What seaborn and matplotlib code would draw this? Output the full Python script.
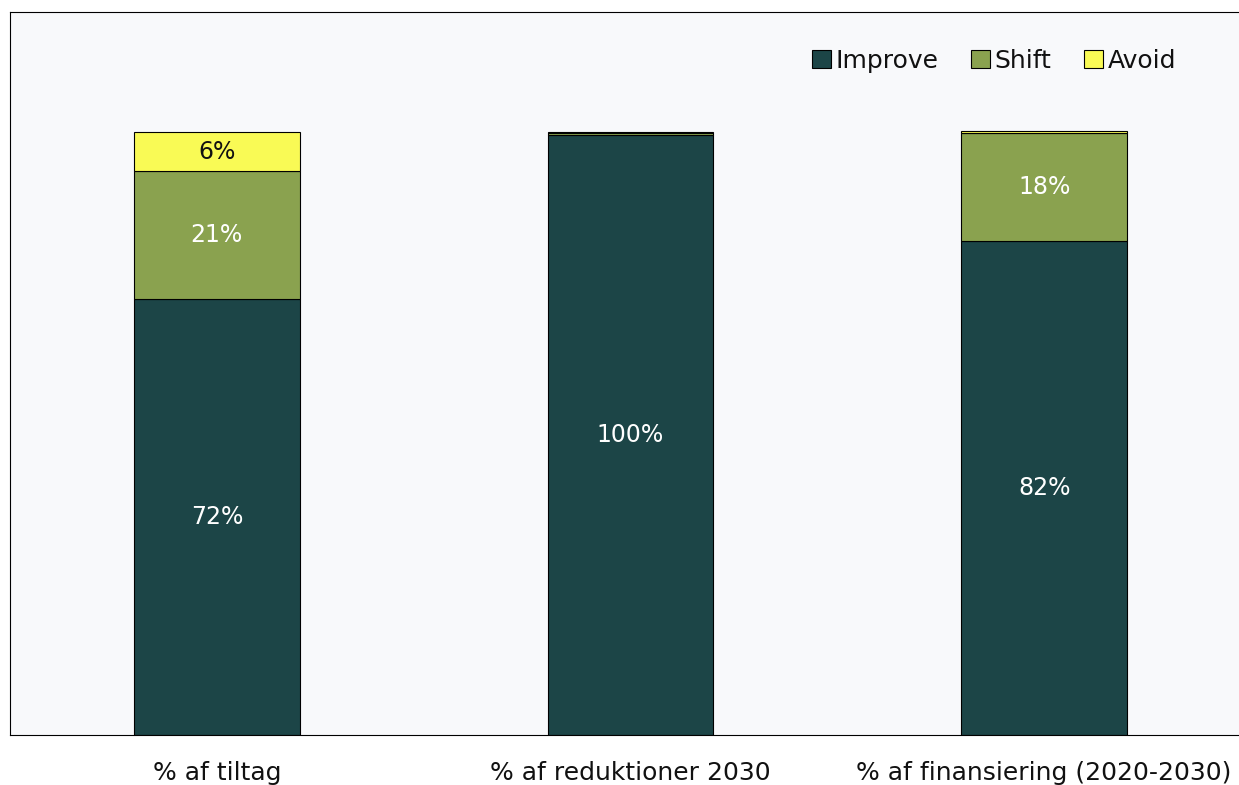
import pandas as pd
import matplotlib.pyplot as plt
import seaborn as sns

# Chart values (percent)
categories = ['% af tiltag', '% af reduktioner 2030', '% af finansiering (2020-2030)']
improve = [72.3, 99.6, 82.0]
shift = [21.3, 0.4, 17.9]
avoid = [6.4, 0.0, 0.35]

sns.set_style('white')
plt.rcParams['font.family'] = ['DejaVu Sans']

df = pd.DataFrame({'cat': categories, 'Improve': improve, 'Shift': shift, 'Avoid': avoid})

fig = plt.figure(figsize=(12.39, 7.85), dpi=100)
ax = fig.add_axes([10 / 1239, 50 / 785, 1241 / 1239, 723 / 785])
ax.set_facecolor('#F8F9FB')

colors = {'Improve': '#1C4547', 'Shift': '#8AA24F', 'Avoid': '#F9FA55'}
bottom = [0.0] * len(categories)
for name in ['Improve', 'Shift', 'Avoid']:
    sns.barplot(data=df, x='cat', y=name, order=categories, color=colors[name],
                saturation=1, width=0.4, bottom=bottom, edgecolor='black',
                linewidth=0.8, label=name, ax=ax)
    for i, v in enumerate(df[name]):
        if v >= 5:
            txt_col = '#111111' if name == 'Avoid' else 'white'
            ax.text(i, bottom[i] + v / 2, f'{round(v):.0f}%', ha='center', va='center',
                    color=txt_col, fontsize=17)
    bottom = [b + v for b, v in zip(bottom, df[name])]

ax.set_xlim(-0.5, 2.5)
ax.set_ylim(0, 120)
ax.set_yticks([])
ax.set_xlabel('')
ax.set_ylabel('')
ax.tick_params(axis='x', length=0, labelsize=18, labelcolor='#111111', pad=19)
for s in ax.spines.values():
    s.set_color('black')
    s.set_linewidth(0.8)

leg = ax.legend(loc='upper right', bbox_to_anchor=(0.958, 0.98), ncol=3, frameon=False,
                fontsize=18, handlelength=0.75, handleheight=0.75, handletextpad=0.2,
                columnspacing=1.3)
for t in leg.get_texts():
    t.set_color('#111111')

fig.savefig('out.png', dpi=100)
